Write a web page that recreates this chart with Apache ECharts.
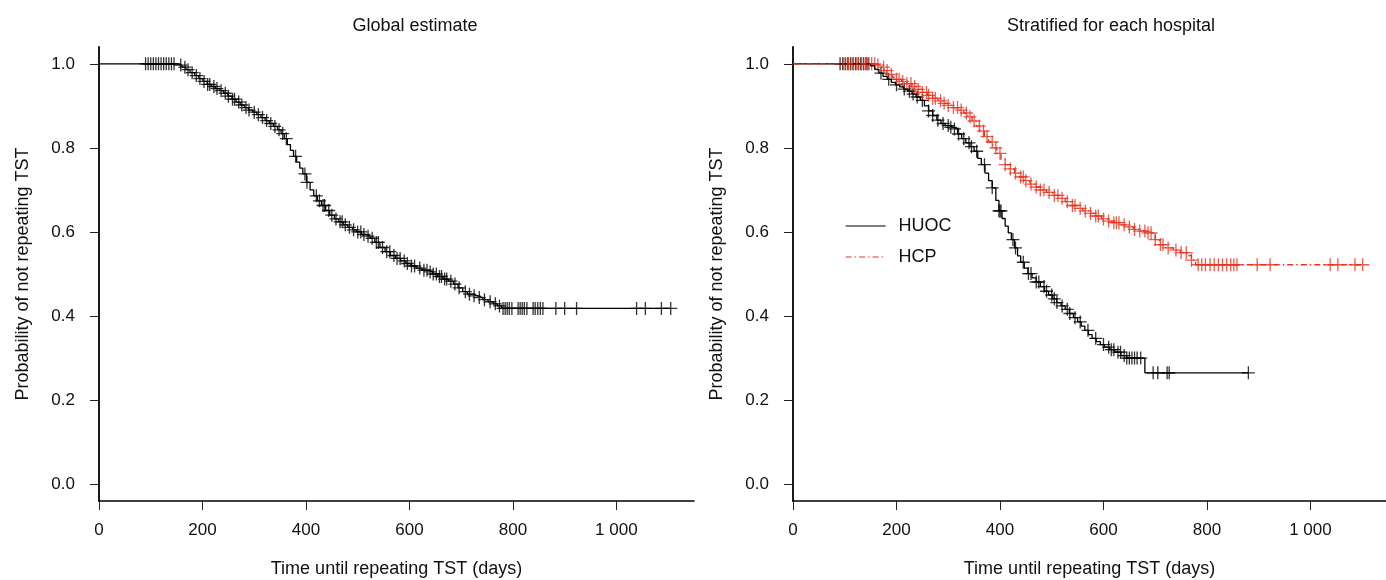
<!DOCTYPE html>
<html>
<head>
<meta charset="utf-8">
<script src="https://cdn.jsdelivr.net/npm/echarts@6/dist/echarts.min.js"></script>
<style>html,body{margin:0;padding:0;background:#fff}#c{width:1386px;height:580px}</style>
</head>
<body>
<div id="c"></div>
<script>
// ---- data ----
const titles = ['Global estimate', 'Stratified for each hospital'];
const xName = 'Time until repeating TST (days)';
const yName = 'Probability of not repeating TST';
const xTicks = [0, 200, 400, 600, 800, 1000];
const yTicks = [0, 0.2, 0.4, 0.6, 0.8, 1.0];
const seriesNames = ['HUOC', 'HCP'];

// Global Kaplan-Meier estimate (time, survival after step)
const globalTimes = [0,152,160,168,176,185,193,201,209,217,225,233,241,249,257,265,273,281,289,297,305,313,321,329,337,345,352,358,364,370,376,382,388,394,401,408,415,422,430,438,446,455,463,472,481,490,498,507,515,524,533,543,553,563,573,583,593,603,613,624,635,645,655,665,675,685,694,703,712,722,732,742,752,762,770,778,1105];
const globalSurv  = [1.0,0.997,0.992,0.986,0.979,0.972,0.965,0.958,0.951,0.946,0.941,0.936,0.930,0.923,0.916,0.909,0.902,0.896,0.890,0.885,0.879,0.872,0.865,0.858,0.851,0.843,0.834,0.822,0.808,0.794,0.780,0.766,0.752,0.738,0.718,0.700,0.686,0.674,0.663,0.651,0.640,0.631,0.624,0.617,0.611,0.605,0.600,0.594,0.590,0.585,0.575,0.563,0.553,0.544,0.537,0.531,0.525,0.519,0.514,0.509,0.505,0.500,0.494,0.488,0.483,0.476,0.467,0.458,0.452,0.448,0.444,0.439,0.434,0.429,0.424,0.418,0.418];
const globalCensor = [90,95,100,105,110,115,120,125,130,135,140,145,158,166,172,180,188,195,203,210,214,222,228,236,244,250,258,262,270,276,284,290,300,308,316,324,332,340,348,355,362,380,398,402,420,426,433,436,444,450,458,466,470,476,484,492,500,506,512,520,528,536,540,548,556,562,570,576,582,590,596,604,610,620,628,634,640,646,652,658,662,668,672,680,688,696,708,716,725,735,745,756,766,774,781,785,789,793,798,810,814,818,822,827,839,843,848,853,858,883,900,923,1039,1056,1087,1105];

// Stratified: HUOC
const huocTimes = [0,150,158,166,174,182,190,198,206,214,222,230,238,246,254,262,270,278,286,294,302,310,318,326,334,342,350,357,364,371,378,385,392,398,404,410,416,422,428,434,440,447,454,462,470,478,486,494,502,510,518,526,534,542,550,557,564,571,578,586,594,602,612,622,634,645,680,880];
const huocSurv  = [1.0,0.995,0.987,0.978,0.970,0.963,0.956,0.950,0.945,0.940,0.935,0.928,0.921,0.913,0.900,0.888,0.877,0.866,0.858,0.853,0.849,0.845,0.833,0.822,0.812,0.803,0.792,0.775,0.760,0.740,0.722,0.705,0.675,0.650,0.632,0.614,0.598,0.582,0.562,0.543,0.528,0.514,0.501,0.491,0.481,0.470,0.459,0.450,0.441,0.432,0.424,0.416,0.406,0.396,0.386,0.376,0.366,0.356,0.347,0.339,0.332,0.326,0.320,0.314,0.306,0.300,0.265,0.265];
const huocCensor = [91,96,101,106,111,116,121,126,131,136,141,145,170,185,200,215,225,232,240,250,262,270,280,290,300,305,312,320,330,340,345,355,370,385,398,400,402,425,430,445,455,460,470,475,485,490,500,505,510,520,530,535,545,555,570,585,600,610,615,620,628,633,640,645,650,655,660,665,672,696,705,723,727,880];

// Stratified: HCP
const hcpTimes = [0,160,168,176,184,192,200,210,220,230,240,250,260,270,280,290,300,310,320,330,338,346,354,362,370,378,386,394,402,410,418,428,438,448,458,468,478,490,502,514,526,538,548,560,572,584,596,608,620,632,645,658,670,682,694,700,708,720,735,748,762,770,778,1101];
const hcpSurv  = [1.0,0.997,0.992,0.984,0.975,0.968,0.963,0.958,0.953,0.946,0.939,0.932,0.925,0.918,0.912,0.906,0.901,0.896,0.890,0.883,0.874,0.864,0.852,0.840,0.827,0.814,0.800,0.787,0.773,0.760,0.750,0.740,0.731,0.722,0.714,0.707,0.700,0.694,0.687,0.680,0.672,0.663,0.656,0.650,0.644,0.638,0.631,0.626,0.622,0.617,0.612,0.606,0.602,0.598,0.594,0.582,0.570,0.562,0.557,0.551,0.544,0.533,0.522,0.522];
const hcpCensor = [97,102,107,112,117,122,127,132,137,142,147,152,158,164,175,182,190,200,205,212,220,228,235,242,250,258,262,270,275,285,292,300,310,318,325,335,342,350,360,368,375,385,392,400,410,420,430,440,445,450,460,470,478,485,495,505,512,520,530,540,545,555,565,575,585,590,600,610,620,625,630,640,650,660,670,680,686,692,700,710,715,725,740,750,760,770,783,790,797,806,814,822,830,838,846,852,858,897,922,1038,1053,1086,1101];

// ---- helpers ----
function stepData(times, surv) { return times.map((t, i) => [t, surv[i]]); }
function survAt(times, surv, t) {
  let s = surv[0];
  for (let i = 0; i < times.length; i++) { if (times[i] <= t) s = surv[i]; }
  return s;
}
function censorData(times, surv, cens) { return cens.map(t => [t, survAt(times, surv, t)]); }

const FONT = 'Liberation Sans, Arial, sans-serif';
const RED = '#e8321f';
const PLUS = 'path://M9,0h2v9h9v2h-9v9h-2v-9h-9v-2h9z';
const fmtX = v => v >= 1000 ? String(v).replace(/(\d)(\d{3})$/, '$1 $2') : String(v);

function xAxisDef(grid, max) {
  return {
    type: 'value', gridIndex: grid, min: 0, max: max,
    name: xName, nameLocation: 'middle', nameGap: 59,
    nameTextStyle: { fontFamily: FONT, fontSize: 18, color: '#111' },
    axisLine: { show: true, onZero: false, lineStyle: { color: '#000', width: 1.6 } },
    axisTick: { show: true, length: 9, customValues: xTicks, lineStyle: { color: '#222', width: 1 } },
    axisLabel: { customValues: xTicks, formatter: fmtX, margin: 21, fontFamily: FONT, fontSize: 17, color: '#111' },
    splitLine: { show: false }
  };
}
function yAxisDef(grid) {
  return {
    type: 'value', gridIndex: grid, min: -0.04, max: 1.04,
    name: yName, nameLocation: 'middle', nameGap: 67,
    nameTextStyle: { fontFamily: FONT, fontSize: 18, color: '#111' },
    axisLine: { show: true, onZero: false, lineStyle: { color: '#000', width: 1.8 } },
    axisTick: { show: true, length: 9, customValues: yTicks, lineStyle: { color: '#222', width: 1 } },
    axisLabel: { customValues: yTicks, formatter: v => v.toFixed(1), margin: 24, fontFamily: FONT, fontSize: 17, color: '#111', padding: [4, 0, 0, 0] },
    splitLine: { show: false }
  };
}

const chart = echarts.init(document.getElementById('c'), null, { renderer: 'canvas' });
chart.setOption({
  animation: false,
  backgroundColor: '#fff',
  title: [
    { text: titles[0], left: 410, top: 12, textAlign: 'center', textStyle: { fontFamily: FONT, fontSize: 18, fontWeight: 'normal', color: '#111' } },
    { text: titles[1], left: 1106, top: 12, textAlign: 'center', textStyle: { fontFamily: FONT, fontSize: 18, fontWeight: 'normal', color: '#111' } }
  ],
  grid: [
    { left: 99, right: 692, top: 47, bottom: 79, containLabel: false, outerBoundsMode: 'none' },
    { left: 793, right: 0, top: 47, bottom: 79, containLabel: false, outerBoundsMode: 'none' }
  ],
  xAxis: [xAxisDef(0, 1150), xAxisDef(1, 1146)],
  yAxis: [yAxisDef(0), yAxisDef(1)],
  legend: {
    orient: 'vertical', left: 840, top: 212, itemWidth: 40, itemHeight: 14, itemGap: 13,
    data: seriesNames,
    itemStyle: { opacity: 0 },
    lineStyle: { width: 1.2 },
    textStyle: { fontFamily: FONT, fontSize: 18, color: '#111', padding: [0, 0, 0, 8] }
  },
  series: [
    { type: 'line', name: 'global', xAxisIndex: 0, yAxisIndex: 0, step: 'end', symbol: 'none',
      data: stepData(globalTimes, globalSurv), lineStyle: { color: '#000', width: 1.3 } },
    { type: 'scatter', name: 'globalCens', xAxisIndex: 0, yAxisIndex: 0, symbol: PLUS, symbolSize: 13,
      data: censorData(globalTimes, globalSurv, globalCensor), itemStyle: { color: '#000' } },
    { type: 'line', name: seriesNames[0], xAxisIndex: 1, yAxisIndex: 1, step: 'end', symbol: 'none',
      data: stepData(huocTimes, huocSurv), color: '#000', lineStyle: { color: '#000', width: 1.3 } },
    { type: 'scatter', name: 'huocCens', xAxisIndex: 1, yAxisIndex: 1, symbol: PLUS, symbolSize: 13,
      data: censorData(huocTimes, huocSurv, huocCensor), itemStyle: { color: '#000' } },
    { type: 'line', name: seriesNames[1], xAxisIndex: 1, yAxisIndex: 1, step: 'end', symbol: 'none',
      data: stepData(hcpTimes, hcpSurv), color: RED, lineStyle: { color: RED, width: 1.3, type: [6, 3, 1.5, 3] } },
    { type: 'scatter', name: 'hcpCens', xAxisIndex: 1, yAxisIndex: 1, symbol: PLUS, symbolSize: 13,
      data: censorData(hcpTimes, hcpSurv, hcpCensor), itemStyle: { color: RED } }
  ]
});
</script>
</body>
</html>
